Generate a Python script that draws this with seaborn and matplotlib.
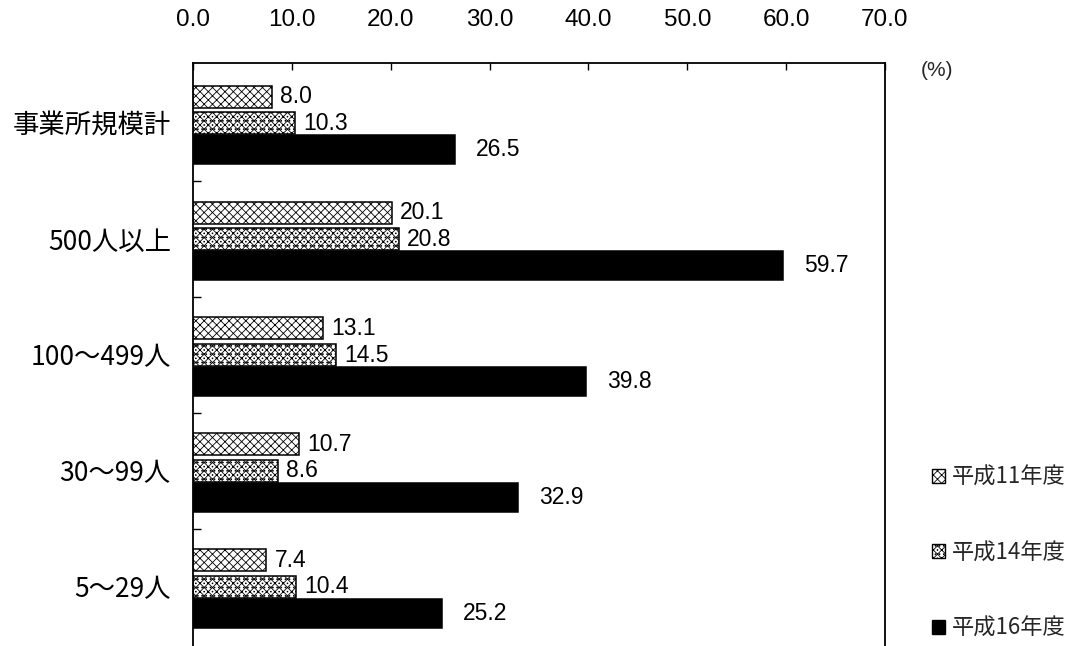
import matplotlib
matplotlib.use("Agg")
import matplotlib.pyplot as plt
from matplotlib import font_manager
from matplotlib.patches import Patch
import seaborn as sns
import pandas as pd

# Data
categories = ["事業所規模計", "500人以上", "100〜499人", "30〜99人", "5〜29人"]
years = ["平成11年度", "平成14年度", "平成16年度"]
h11 = [8.0, 20.1, 13.1, 10.7, 7.4]
h14 = [10.3, 20.8, 14.5, 8.6, 10.4]
h16 = [26.5, 59.7, 39.8, 32.9, 25.2]
x_ticks = [0, 10, 20, 30, 40, 50, 60, 70]

sns.set_theme(style="white")
available = {f.name for f in font_manager.fontManager.ttflist}
narrow = "Liberation Sans Narrow" if "Liberation Sans Narrow" in available else "Liberation Sans"
plt.rcParams["font.family"] = ["Noto Sans CJK JP", "DejaVu Sans"]
plt.rcParams["hatch.linewidth"] = 0.6
plt.rcParams["hatch.color"] = "#3a3a3a"

df = pd.DataFrame({
    "category": categories * 3,
    "year": [years[0]] * 5 + [years[1]] * 5 + [years[2]] * 5,
    "value": h11 + h14 + h16,
})

fig = plt.figure(figsize=(10.76, 6.46), dpi=100)
ax = fig.add_axes([193 / 1076, 0.0, 692 / 1076, 1 - 63 / 646])

sns.barplot(
    data=df, y="category", x="value", hue="year", orient="h",
    order=categories, hue_order=years,
    palette=["white", "white", "black"], width=0.69,
    edgecolor="black", linewidth=1.1, saturation=1, legend=False, ax=ax,
)

hatches = ["xxxx", "xxxx....", None]
heights = [0.19, 0.19, 0.25]
label_pad = [6, 6, 15]
for cont, hatch, h, pad in zip(ax.containers, hatches, heights, label_pad):
    for p in cont.patches:
        cy = p.get_y() + p.get_height() / 2
        p.set_y(cy - h / 2)
        p.set_height(h)
        if hatch:
            p.set_hatch(hatch)
    ax.bar_label(cont, fmt="%.1f", padding=pad, fontsize=16.5,
                 family="Liberation Sans", color="black")

ax.set_xlim(0, 70)
ax.set_ylim(4.51, -0.52)
ax.set_xticks(x_ticks)
ax.set_xticklabels([f"{t:.1f}" for t in x_ticks], family=narrow, fontsize=17.5)
ax.xaxis.tick_top()
ax.tick_params(axis="x", which="major", direction="in", length=5, width=1,
               pad=23, top=True, bottom=False, colors="black")
ax.set_yticks(range(len(categories)))
ax.set_yticklabels(categories, fontsize=19)
ax.tick_params(axis="y", which="major", length=0, pad=16, colors="black")
ax.set_yticks([0.5, 1.5, 2.5, 3.5], minor=True)
ax.tick_params(axis="y", which="minor", direction="in", length=6, width=1,
               left=True, colors="black")
ax.set_xlabel("")
ax.set_ylabel("")
for side in ["left", "top", "right"]:
    ax.spines[side].set_visible(True)
    ax.spines[side].set_color("black")
    ax.spines[side].set_linewidth(1.3)
ax.spines["bottom"].set_visible(False)

fig.text(937 / 1076, 1 - 70 / 646, "(%)", ha="center", va="center",
         fontsize=15, family=narrow)

handles = [
    Patch(facecolor="white", edgecolor="black", hatch="xxxx", linewidth=1.0),
    Patch(facecolor="white", edgecolor="black", hatch="xxxx....", linewidth=1.0),
    Patch(facecolor="black", edgecolor="black", linewidth=1.0),
]
fig.legend(handles, years, loc="upper left",
           bbox_to_anchor=(932 / 1076, 1 - 466 / 646), frameon=False,
           fontsize=16, handlelength=0.6, handleheight=0.6, handletextpad=0.3,
           labelspacing=2.35, borderaxespad=0, borderpad=0)

fig.savefig("out.png", dpi=100)
